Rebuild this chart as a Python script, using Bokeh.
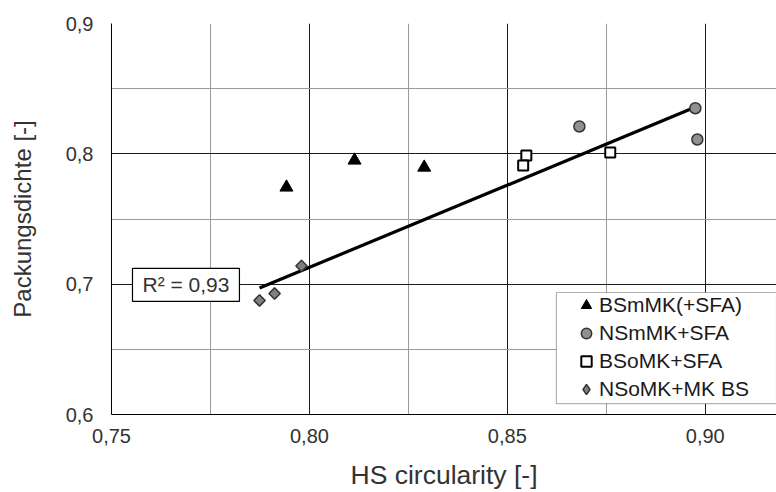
import numpy as np
from bokeh.plotting import figure
from bokeh.models import FixedTicker, Legend, LegendItem, Label, BoxAnnotation
from bokeh.embed import file_html
from bokeh.resources import INLINE

# ---- data ----
bs_mmk_x = [0.7942, 0.8114, 0.8290]
bs_mmk_y = [0.7743, 0.7950, 0.7896]

ns_mmk_x = [0.8682, 0.8975, 0.8980]
ns_mmk_y = [0.8210, 0.8350, 0.8110]

bs_omk_x = [0.8548, 0.8540, 0.8760]
bs_omk_y = [0.7987, 0.7910, 0.8010]

ns_omk_x = [0.7980, 0.7912, 0.7874]
ns_omk_y = [0.7140, 0.6928, 0.6875]

series_names = ["BSmMK(+SFA)", "NSmMK+SFA", "BSoMK+SFA", "NSoMK+MK BS"]
x_ticks = [0.75, 0.80, 0.85, 0.90]
x_minor = [0.775, 0.825, 0.875]
x_tick_labels = ["0,75", "0,80", "0,85", "0,90"]
y_ticks = [0.6, 0.7, 0.8, 0.9]
y_minor = [0.65, 0.75, 0.85]
y_tick_labels = ["0,6", "0,7", "0,8", "0,9"]
r2_text = "R² = 0,93"

FONT = "Liberation Sans"
TXT = "#333333"

p = figure(width=776, height=492, output_backend="svg", toolbar_location=None,
           x_range=(0.75, 0.918), y_range=(0.6, 0.9),
           min_border_left=111, min_border_right=0, min_border_top=23, min_border_bottom=75)
p.outline_line_color = None
p.background_fill_color = "white"

# grids
for g, tk, mn in ((p.xgrid, x_ticks, x_minor), (p.ygrid, y_ticks, y_minor)):
    g.ticker = FixedTicker(ticks=tk, minor_ticks=mn)
    g.grid_line_color = "#1a1a1a"
    g.grid_line_width = 1
    g.minor_grid_line_color = "#9a9a9a"
    g.minor_grid_line_width = 1

# axes
p.xaxis.ticker = FixedTicker(ticks=x_ticks)
p.yaxis.ticker = FixedTicker(ticks=y_ticks)
p.xaxis.major_label_overrides = dict(zip(x_ticks, x_tick_labels))
p.yaxis.major_label_overrides = dict(zip(y_ticks, y_tick_labels))
for ax in (p.xaxis, p.yaxis):
    ax.axis_line_color = "black"
    ax.axis_line_width = 1
    ax.major_tick_line_color = None
    ax.minor_tick_line_color = None
    ax.major_tick_out = 0
    ax.major_tick_in = 0
    ax.major_label_text_font = FONT
    ax.major_label_text_font_size = "20px"
    ax.major_label_text_color = TXT
    ax.axis_label_text_font = FONT
    ax.axis_label_text_font_style = "normal"
    ax.axis_label_text_color = TXT
p.xaxis.axis_label_text_font_size = "26.5px"
p.yaxis.axis_label_text_font_size = "24px"
p.xaxis.axis_label = "HS circularity [-]"
p.yaxis.axis_label = "Packungsdichte [-]"
p.xaxis.major_label_standoff = 14
p.xaxis.axis_label_standoff = 14
p.yaxis.major_label_standoff = 18
p.yaxis.axis_label_standoff = 27

# trend line (fit over the non-triangle series)
fit_x = np.array(ns_mmk_x + bs_omk_x + ns_omk_x)
fit_y = np.array(ns_mmk_y + bs_omk_y + ns_omk_y)
k, d = np.polyfit(fit_x, fit_y, 1)
lx = np.array([fit_x.min(), fit_x.max()])
p.line(lx, k * lx + d, line_color="black", line_width=3.2)

# markers
r1 = p.scatter(bs_mmk_x, bs_mmk_y, marker="triangle", size=13,
               fill_color="black", line_color="black")
r2 = p.scatter(ns_mmk_x, ns_mmk_y, marker="circle", size=11,
               fill_color="#909090", line_color="#333333", line_width=1.5)
r3 = p.scatter(bs_omk_x, bs_omk_y, marker="square", size=10,
               fill_color="white", line_color="black", line_width=2)
# legend proxy for the diamond series (legend glyphs ignore the angle);
# tiny and hidden under the real markers
r4_leg = p.scatter(ns_omk_x, ns_omk_y, marker="diamond", size=1,
                   fill_color="#808080", line_color="#333333", line_width=1.5)
r4 = p.scatter(ns_omk_x, ns_omk_y, marker="square", angle=np.pi / 4, size=8,
               fill_color="#808080", line_color="#333333", line_width=1.5)

# legend frame
box = BoxAnnotation(left=0.8624, right=None, bottom=0.6083, top=0.6936,
                    fill_color="white", fill_alpha=1.0,
                    line_color="black", line_width=1.2)
p.add_layout(box)

legend = Legend(items=[LegendItem(label=n, renderers=[r])
                       for n, r in zip(series_names, [r1, r2, r3, r4_leg])],
                location=(462, 11), orientation="vertical",
                padding=0, spacing=0, margin=0,
                glyph_width=26, glyph_height=28, label_height=28,
                label_standoff=0,
                label_text_font=FONT, label_text_font_size="21px",
                label_text_color="#1a1a1a",
                border_line_color=None, background_fill_alpha=0)
p.add_layout(legend, "center")

# R² box
lab = Label(x=0.7553, y=0.6868, text=r2_text, text_font=FONT,
            text_font_size="21px", text_color=TXT,
            border_line_color="black", border_line_width=1.2,
            background_fill_color="white", padding=(10, 5))
p.add_layout(lab)

open("out.html", "w").write(file_html(p, INLINE))
